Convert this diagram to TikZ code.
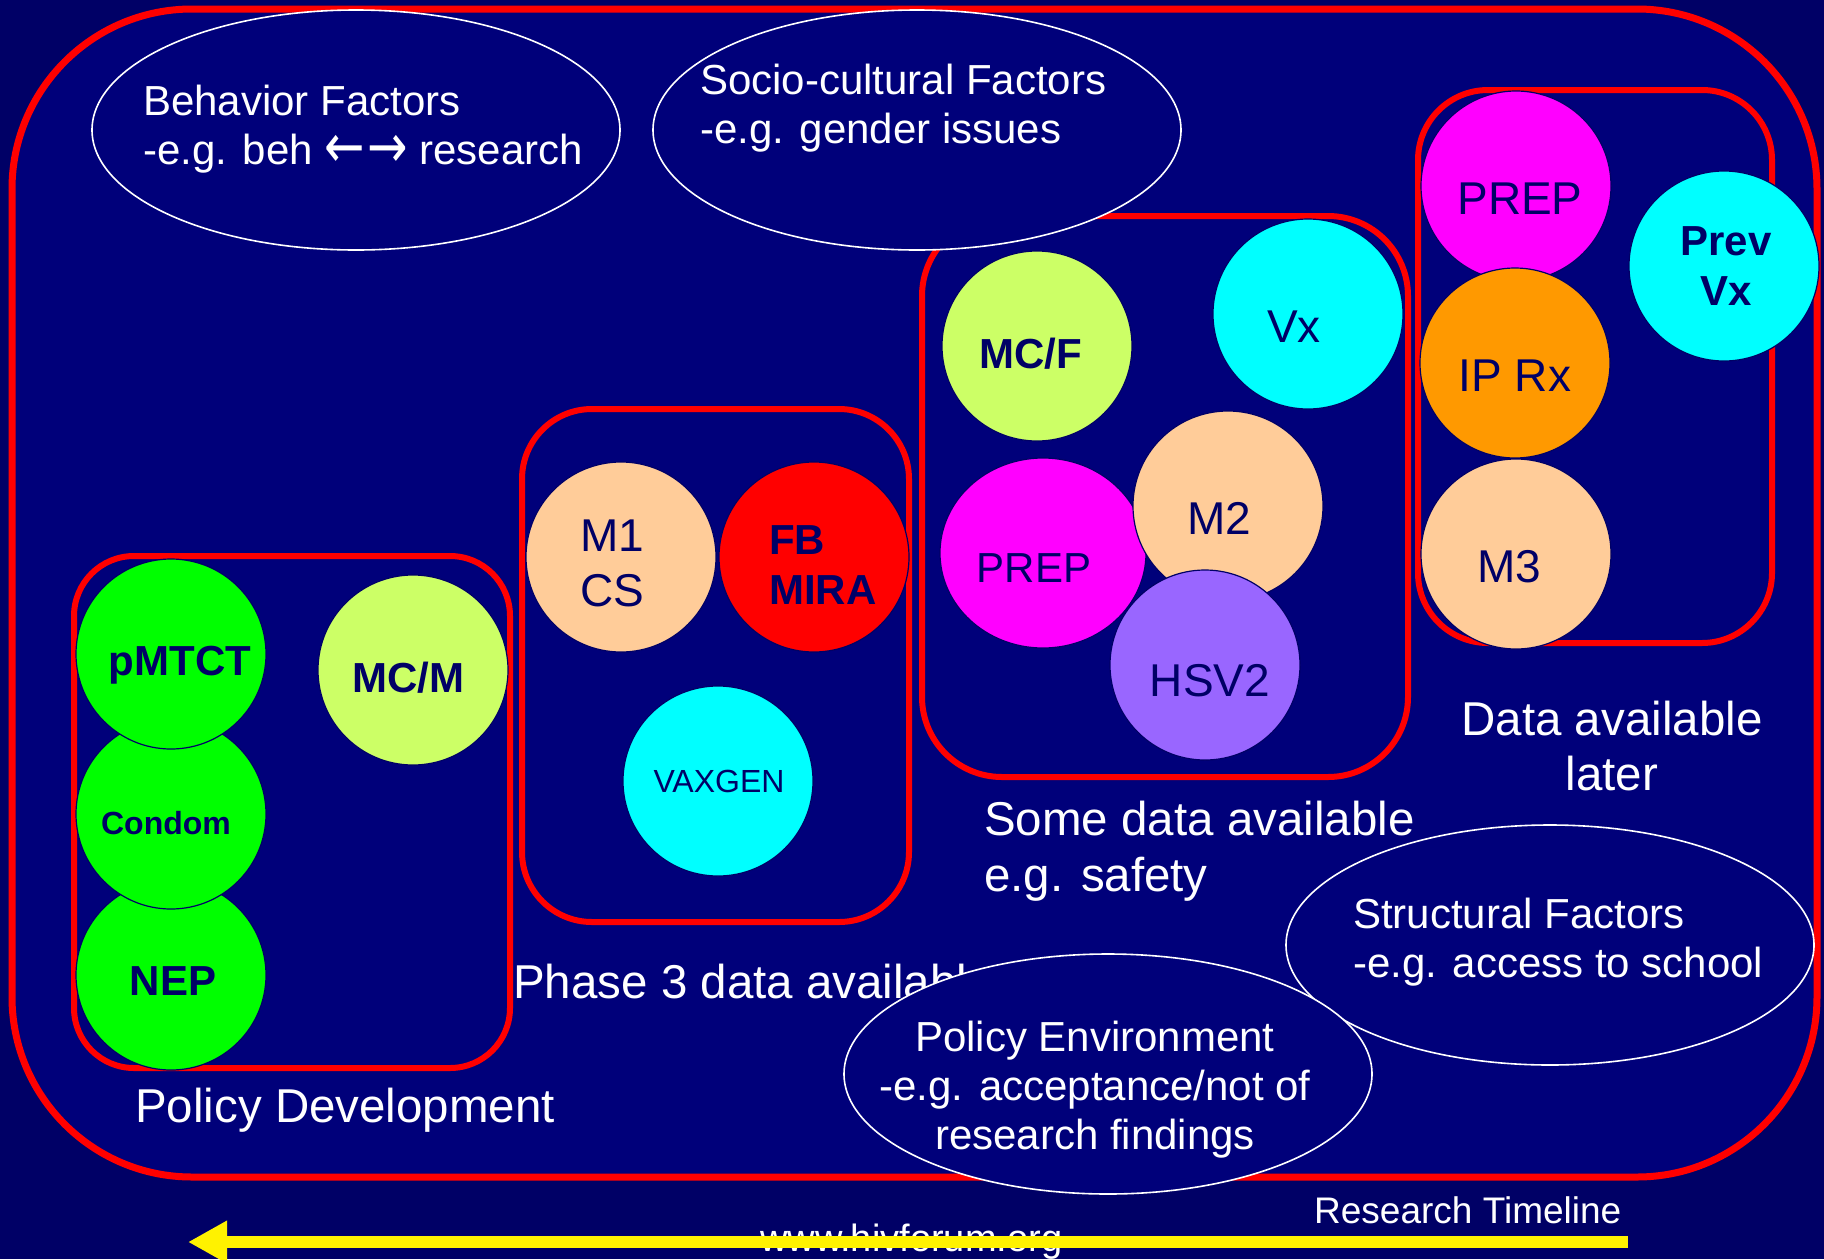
\documentclass[tikz,border=0pt]{standalone}
\usepackage{fontspec}
\setmainfont{Liberation Sans}
\newfontfamily\arrowfont{DejaVu Sans}
\usetikzlibrary{arrows.meta, positioning, shapes.geometric}
\usepackage{xcolor}

\definecolor{pagenavy}{RGB}{0,0,102}
\definecolor{boxnavy}{RGB}{0,0,122}
\definecolor{inknavy}{RGB}{0,0,102}
\definecolor{mgreen}{RGB}{0,255,0}
\definecolor{lgreen}{RGB}{204,255,102}
\definecolor{peach}{RGB}{255,204,153}
\definecolor{mcyan}{RGB}{0,255,255}
\definecolor{mmagenta}{RGB}{255,0,255}
\definecolor{mpurple}{RGB}{153,102,255}
\definecolor{morange}{RGB}{255,153,0}

\begin{document}
\begin{tikzpicture}[line cap=round, line join=round, x=1pt, y=-1pt,
  disc/.style={circle, minimum size=190pt, inner sep=0pt, draw=inknavy, line width=1.2pt},
  disctext/.style={inner sep=0pt, text=inknavy},
  factor/.style={ellipse, minimum width=528pt, minimum height=240pt, inner sep=0pt, draw=white, line width=1.6pt, fill=boxnavy},
  note/.style={text=white, inner sep=0pt, font=\fontsize{42}{49}\selectfont},
  phase/.style={text=white, inner sep=0pt, font=\fontsize{47.5}{55.5}\selectfont},
  boldlab/.style={font=\fontsize{42}{50}\selectfont\bfseries},
  smallbold/.style={font=\fontsize{32}{38}\selectfont\bfseries},
  plainlab/.style={font=\fontsize{46}{55}\selectfont},
  midlab/.style={font=\fontsize{42}{50}\selectfont},
  smallplain/.style={font=\fontsize{32}{38}\selectfont},
  groupbox/.style={draw=red, line width=6pt}]
\useasboundingbox (0,0) rectangle (1824,1259);

% Background and outer frame
\fill [pagenavy] (0,0) rectangle (1824,1259);
\filldraw [fill=boxnavy, draw=red, line width=7pt, rounded corners=180pt] (12,9) rectangle (1817,1177);

% Group boxes
\draw [groupbox, rounded corners=60pt] (74,556) rectangle (510,1068);
\draw [groupbox, rounded corners=70pt] (522,409) rectangle (909,922);
\draw [groupbox, rounded corners=80pt] (922,216) rectangle (1408,777);
\draw [groupbox, rounded corners=70pt] (1418,90) rectangle (1772,643);

% Policy development
\node [disc, fill=mgreen] (nep) at (171,975) {};
\node [disctext, boldlab, anchor=base] (nep-t) at (173,995) {NEP};
\node [disc, fill=mgreen] (condom) at (171,814) {};
\node [disctext, smallbold, anchor=base] (condom-t) at (166,834) {Condom};
\node [disc, fill=mgreen] (pmtct) at (171,654) {};
\node [disctext, boldlab, anchor=base] (pmtct-t) at (180,675) {pMTCT};
\node [disc, fill=lgreen] (mcm) at (413,670) {};
\node [disctext, boldlab, anchor=base] (mcm-t) at (408,692) {MC/M};

% Phase 3
\node [disc, fill=peach] (mone) at (621,557) {};
\node [disctext, plainlab, align=left, anchor=north west] (mone-t) at (580,520) {M1\\CS};
\node [disc, fill=red] (fbmira) at (814,557) {};
\node [disctext, boldlab, align=left, anchor=north west] (fbmira-t) at (769,525) {FB\\MIRA};
\node [disc, fill=mcyan] (vaxgen) at (718,781) {};
\node [disctext, smallplain, anchor=base] (vaxgen-t) at (719,792) {VAXGEN};

% Some data
\node [disc, fill=lgreen] (mcf) at (1037,346) {};
\node [disctext, boldlab, anchor=base] (mcf-t) at (1031,368) {MC/F};
\node [disc, fill=mcyan] (vx) at (1308,314) {};
\node [disctext, plainlab, anchor=base] (vx-t) at (1294,342) {Vx};
\node [disc, ellipse, minimum width=206pt, minimum height=190pt, fill=mmagenta] (prepa) at (1043,553) {};
\node [disctext, midlab, anchor=base] (prepa-t) at (1034,582) {PREP};
\node [disc, fill=peach] (mtwo) at (1228,506) {};
\node [disctext, plainlab, anchor=base] (mtwo-t) at (1219,534) {M2};
\node [disc, fill=mpurple] (hsv) at (1205,665) {};
\node [disctext, plainlab, anchor=base] (hsv-t) at (1210,696) {HSV2};

% Data later
\node [disc, fill=mmagenta] (prepb) at (1516,186) {};
\node [disctext, plainlab, anchor=base] (prepb-t) at (1520,214) {PREP};
\node [disc, fill=morange] (iprx) at (1515,363) {};
\node [disctext, plainlab, anchor=base] (iprx-t) at (1515,391) {IP Rx};
\node [disc, fill=peach] (mthree) at (1516,554) {};
\node [disctext, plainlab, anchor=base] (mthree-t) at (1509,582) {M3};
\node [disc, fill=mcyan] (prevvx) at (1724,266) {};
\node [disctext, boldlab, align=center, anchor=north] (prevvx-t) at (1726,226) {Prev\\Vx};

% Group labels
\node [phase, anchor=base west] (pdlabel) at (135,1122) {Policy Development};
\node [phase, anchor=base west] (phlabel) at (513,998) {Phase 3 data available};
\node [phase, anchor=west, align=left] (somelabel) at (984,851) {Some data available\\e.g. safety};
\node [phase, align=center] (laterlabel) at (1612,746) {Data available\\later};

% Factors
\node [factor] (beh) at (356,130) {};
\node [note, anchor=west, align=left] (behtext) at (143,129) {Behavior Factors\\-e.g. beh {\arrowfont\raisebox{-3pt}{\scalebox{1.15}[1.45]{←\kern2pt→}}} research};
\node [factor] (socio) at (917,130) {};
\node [note, anchor=west, align=left] (sociotext) at (700,108) {Socio-cultural Factors\\-e.g. gender issues};
\node [factor] (struct) at (1550,945) {};
\node [note, anchor=west, align=left] (structtext) at (1353,942) {Structural Factors\\-e.g. access to school};
\node [factor] (polenv) at (1108,1074) {};
\node [note, align=center] (polenvtext) at (1095,1090) {Policy Environment\\-e.g. acceptance/not of\\research findings};

% Timeline
\node [inner sep=0pt, text=white, font=\fontsize{38}{44}\selectfont, anchor=base west] (web) at (760,1251) {www.hivforum.org};
\node [inner sep=0pt, text=white, font=\fontsize{37}{44}\selectfont, anchor=base west] (tltext) at (1314,1223) {Research Timeline};
\coordinate (tlstart) at (1628,1242);
\coordinate (tlend) at (188,1242);
\draw [yellow, line width=12pt, line cap=butt, -{Triangle[length=39pt, width=40pt]}] (tlstart) -- (tlend);
\end{tikzpicture}
\end{document}
